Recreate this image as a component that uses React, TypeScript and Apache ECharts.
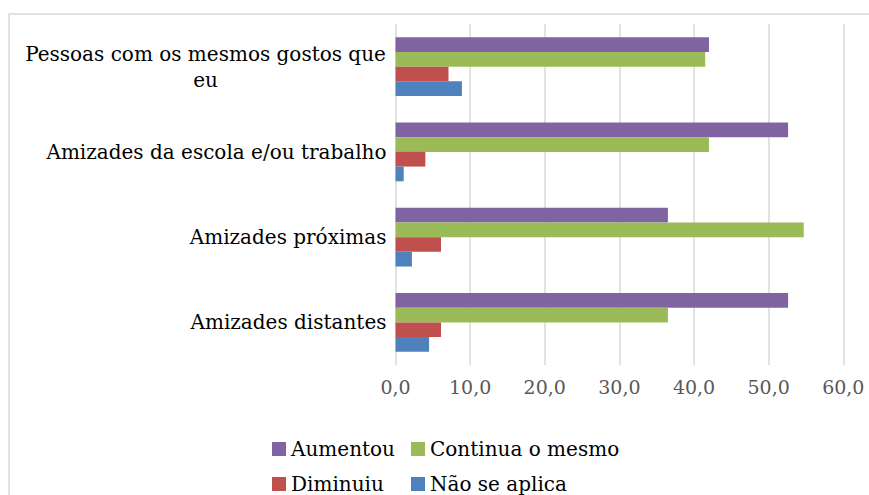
import React, { useEffect, useRef } from "react";
import * as echarts from "echarts";

const categories = [
  "Amizades distantes",
  "Amizades próximas",
  "Amizades da escola e/ou trabalho",
  "Pessoas com os mesmos gostos que eu",
];
const seriesNames = ["Aumentou", "Continua o mesmo", "Diminuiu", "Não se aplica"];
const aumentou = [52.6, 36.5, 52.6, 42.0];
const continua = [36.5, 54.7, 42.0, 41.5];
const diminuiu = [6.1, 6.1, 4.0, 7.1];
const naoSeAplica = [4.5, 2.2, 1.1, 8.9];
const colors = ["#8064a2", "#9bbb59", "#c0504d", "#4f81bd"];
const xTicks = [0, 10, 20, 30, 40, 50, 60];

const FONT = "DejaVu Serif";

export default function App() {
  const ref = useRef<HTMLDivElement>(null);
  useEffect(() => {
    if (!ref.current) return;
    const chart = echarts.init(ref.current, undefined, { renderer: "svg" });
    const data = [aumentou, continua, diminuiu, naoSeAplica];
    chart.setOption({
      animation: false,
      graphic: [
        {
          type: "rect",
          shape: { x: 9, y: 14, width: 1000, height: 700 },
          style: { fill: "none", stroke: "#d9d9d9", lineWidth: 1.5 },
          silent: true,
          z: -1,
        },
      ],
      grid: { left: 395.5, right: 25.7, top: 24, bottom: 130, containLabel: false },
      xAxis: {
        type: "value",
        min: xTicks[0],
        max: xTicks[xTicks.length - 1],
        interval: 10,
        axisLine: { show: false },
        axisTick: { show: false },
        splitLine: { show: true, lineStyle: { color: "#d9d9d9", width: 1.5 } },
        axisLabel: {
          color: "#595959",
          fontFamily: FONT,
          fontSize: 19,
          margin: 12,
          formatter: (v: number) => v.toFixed(1).replace(".", ","),
        },
      },
      yAxis: {
        type: "category",
        data: categories,
        axisLine: { show: false },
        axisTick: { show: false },
        axisLabel: {
          color: "#000000",
          fontFamily: FONT,
          fontSize: 20,
          margin: 9,
          lineHeight: 26,
          formatter: (v: string) => {
            if (v === "Pessoas com os mesmos gostos que eu") {
              return "{w|Pessoas com os mesmos gostos que}\n{w|eu}";
            }
            return v;
          },
          rich: {
            w: {
              width: 362,
              align: "center",
              fontFamily: FONT,
              fontSize: 20,
              color: "#000000",
              lineHeight: 26,
            },
          },
        },
      },
      legend: [
        {
          left: 267,
          top: 433,
          itemWidth: 14,
          itemHeight: 14,
          itemGap: 14,
          icon: "rect",
          textStyle: { fontFamily: FONT, fontSize: 20, color: "#000000", lineHeight: 22 },
          data: [
            { name: "Aumentou", textStyle: { width: 106 } },
            { name: "Continua o mesmo" },
          ],
        },
        {
          left: 267,
          top: 468,
          itemWidth: 14,
          itemHeight: 14,
          itemGap: 14,
          icon: "rect",
          textStyle: { fontFamily: FONT, fontSize: 20, color: "#000000", lineHeight: 22 },
          data: [
            { name: "Diminuiu", textStyle: { width: 106 } },
            { name: "Não se aplica" },
          ],
        },
      ],
      series: seriesNames.map((name, i) => ({
        name,
        type: "bar",
        data: data[i],
        barGap: "0%",
        barCategoryGap: "31%",
        itemStyle: { color: colors[i] },
      })),
    });
    return () => chart.dispose();
  }, []);
  return (
    <div
      ref={ref}
      style={{ position: "fixed", left: 0, top: 0, width: 869, height: 495, background: "#fff" }}
    />
  );
}
